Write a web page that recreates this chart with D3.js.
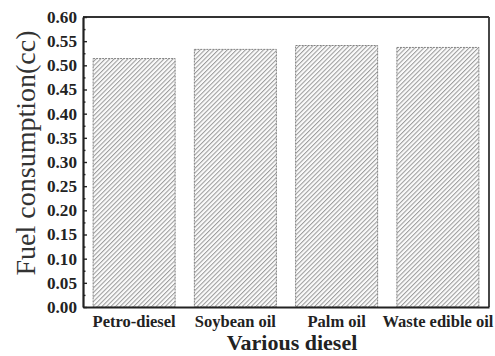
<!DOCTYPE html>
<html>
<head>
<meta charset="utf-8">
<script src="https://cdn.jsdelivr.net/npm/d3@7"></script>
<style>
  body { margin: 0; background: #fff; }
  svg { display: block; }
</style>
</head>
<body>
<div id="chart"></div>
<script>
// Data
const categories = ["Petro-diesel", "Soybean oil", "Palm oil", "Waste edible oil"];
const consumption = [0.514, 0.533, 0.541, 0.537];
const yTicks = [0.00, 0.05, 0.10, 0.15, 0.20, 0.25, 0.30, 0.35, 0.40, 0.45, 0.50, 0.55, 0.60];
const yMinorTicks = [0.025, 0.075, 0.125, 0.175, 0.225, 0.275, 0.325, 0.375, 0.425, 0.475, 0.525, 0.575];

const serif = "'Liberation Serif', 'Times New Roman', serif";

// Set the dimensions and margins of the graph
const totalWidth = 495, totalHeight = 356;
const margin = { top: 17, right: 6, bottom: 49, left: 83 },
  width = totalWidth - margin.left - margin.right,
  height = totalHeight - margin.top - margin.bottom;

const root = d3.select("#chart")
  .append("svg")
  .attr("width", totalWidth)
  .attr("height", totalHeight);

// Diagonal hatch fill for the bars
const pattern = root.append("defs")
  .append("pattern")
  .attr("id", "hatch")
  .attr("patternUnits", "userSpaceOnUse")
  .attr("width", 3.2)
  .attr("height", 3.2)
  .attr("patternTransform", "rotate(45)");
pattern.append("rect")
  .attr("width", 3.2)
  .attr("height", 3.2)
  .attr("fill", "#fbfbfb");
pattern.append("line")
  .attr("x1", 0.5).attr("y1", 0)
  .attr("x2", 0.5).attr("y2", 3.2)
  .attr("stroke", "#9c9c9c")
  .attr("stroke-width", 1.1);

const svg = root.append("g")
  .attr("transform", `translate(${margin.left},${margin.top})`);

// Scales
const xScale = d3.scaleBand()
  .domain(categories)
  .range([0, width])
  .paddingInner(0.19)
  .paddingOuter(0.1);
const yScale = d3.scaleLinear().domain([0, 0.6]).range([height, 0]);

// Bars
svg.selectAll(".bar")
  .data(categories)
  .enter()
  .append("rect")
  .attr("class", "bar")
  .attr("x", d => xScale(d))
  .attr("width", xScale.bandwidth())
  .attr("y", (d, i) => yScale(consumption[i]))
  .attr("height", (d, i) => height - yScale(consumption[i]))
  .attr("fill", "url(#hatch)")
  .attr("stroke", "#808080")
  .attr("stroke-width", 1)
  .attr("stroke-dasharray", "2,1");

// Frame: top and right lines
svg.append("line")
  .attr("x1", 0).attr("x2", width)
  .attr("y1", 0).attr("y2", 0)
  .attr("stroke", "#333").attr("stroke-width", 1.8);
svg.append("line")
  .attr("x1", width).attr("x2", width)
  .attr("y1", 0).attr("y2", height)
  .attr("stroke", "#333").attr("stroke-width", 1.8);

// Minor ticks on the left axis (inward)
svg.append("g")
  .attr("class", "y-minor")
  .call(d3.axisRight(yScale).tickValues(yMinorTicks).tickSize(2.5).tickFormat(""))
  .call(g => g.select(".domain").remove())
  .selectAll("line")
  .attr("stroke", "#222")
  .attr("stroke-width", 1.4);

// Left axis with inward major ticks
const yAxis = svg.append("g")
  .attr("class", "y-axis")
  .call(d3.axisLeft(yScale).tickValues(yTicks).tickSizeInner(-4).tickSizeOuter(0).tickFormat(d3.format(".2f")));
yAxis.select(".domain").attr("stroke", "#222").attr("stroke-width", 2.2);
yAxis.selectAll(".tick line").attr("stroke", "#222").attr("stroke-width", 1.4);
yAxis.selectAll("text")
  .attr("dy", "0.34em")
  .attr("x", -6)
  .attr("textLength", 30)
  .attr("lengthAdjust", "spacingAndGlyphs")
  .style("font-family", serif)
  .style("font-weight", "bold")
  .style("font-size", "16px")
  .style("fill", "#222");

// Bottom axis, no ticks
const xAxis = svg.append("g")
  .attr("class", "x-axis")
  .attr("transform", `translate(0,${height})`)
  .call(d3.axisBottom(xScale).tickSize(0).tickPadding(8));
xAxis.select(".domain").attr("stroke", "#222").attr("stroke-width", 2.2);
xAxis.selectAll("text")
  .attr("dy", "0.71em")
  .style("font-family", serif)
  .style("font-weight", "bold")
  .style("font-size", "16.5px")
  .style("fill", "#222");

// Axis titles
svg.append("text")
  .attr("transform", "rotate(-90)")
  .attr("x", -(height / 2) + 9)
  .attr("y", -margin.left + 35)
  .style("text-anchor", "middle")
  .style("font-family", serif)
  .style("font-size", "28px")
  .style("fill", "#333")
  .text("Fuel consumption(cc)");

svg.append("text")
  .attr("x", width / 2 + 6)
  .attr("y", height + 43)
  .style("text-anchor", "middle")
  .style("font-family", serif)
  .style("font-weight", "bold")
  .style("font-size", "22px")
  .style("fill", "#222")
  .text("Various diesel");
</script>
</body>
</html>
